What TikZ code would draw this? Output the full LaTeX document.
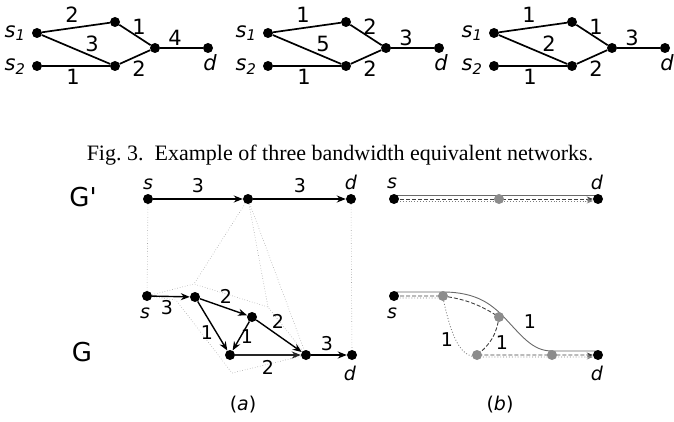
\documentclass[tikz,border=0pt]{standalone}
\usepackage{fontspec}
\setmainfont{Liberation Serif}
\newfontfamily\labfont{DejaVu Sans}
\usetikzlibrary{arrows.meta, positioning, backgrounds}
\definecolor{hullGray}{RGB}{165,165,165}
\definecolor{pathGray}{RGB}{105,105,105}
\definecolor{nodeGray}{RGB}{140,140,140}

\begin{document}
\begin{tikzpicture}[x=1pt, y=-1pt,
    dot/.style={circle, fill=black, inner sep=0pt, minimum size=10pt},
    gdot/.style={dot, fill=nodeGray},
    lbl/.style={font=\labfont\fontsize{21}{23}\selectfont, inner sep=0pt},
    sml/.style={font=\labfont\fontsize{19}{21}\selectfont, inner sep=0pt},
    big/.style={font=\labfont\fontsize{26}{28}\selectfont, inner sep=0pt},
    link/.style={line width=1.7pt},
    arr/.style={line width=1.4pt, -{Stealth[length=9pt, width=7pt]}},
    hull/.style={hullGray, dotted, line width=0.6pt},
    solidp/.style={pathGray, line width=0.9pt},
    dashp/.style={black!75, line width=0.9pt, dash pattern=on 4pt off 2pt, -{Stealth[length=6pt, width=5pt]}},
    dotp/.style={black!50, line width=0.9pt, dotted, -{Stealth[length=6pt, width=5pt]}}
  ]
  \useasboundingbox (0,0) rectangle (674,422);

  % three equivalent networks
  \foreach \ox/\la/\lb/\lc/\ld/\le/\lf/\p in {0/2/3/1/4/1/2/1, 231/1/5/2/3/1/2/2, 457/1/2/1/3/1/2/3} {
    \begin{scope}[xshift=\ox pt]
      \node[dot] (s1-\p) at (37,33) {};
      \node[dot] (s2-\p) at (37,66) {};
      \node[dot] (up-\p) at (115,22) {};
      \node[dot] (lo-\p) at (115,66) {};
      \node[dot] (mg-\p) at (155,48) {};
      \node[dot] (d-\p) at (208,48) {};
      \draw[link] (s1-\p) -- (up-\p) -- (mg-\p) -- (d-\p);
      \draw[link] (s1-\p) -- (lo-\p) -- (mg-\p);
      \draw[link] (s2-\p) -- (lo-\p);
      \node[lbl] (ls1-\p) at (15,33) {\itshape s\textsubscript{1}};
      \node[lbl] (ls2-\p) at (15,67) {\itshape s\textsubscript{2}};
      \node[lbl] (ld-\p) at (210,63) {\itshape d};
      \node[lbl] (la-\p) at (72,15) {\la};
      \node[lbl] (lb-\p) at (92,44) {\lb};
      \node[lbl] (lc-\p) at (139,27) {\lc};
      \node[lbl] (ldd-\p) at (175,38) {\ld};
      \node[lbl] (le-\p) at (73,77) {\le};
      \node[lbl] (lf-\p) at (139,69) {\lf};
    \end{scope}
  }

  \node[font=\fontsize{22}{24}\selectfont, anchor=base] (caption) at (340,161)
    {Fig.~3.\ \ Example of three bandwidth equivalent networks.};

  \node[big] (Gp) at (83,197) {G'};
  \node[big] (G) at (82,352) {G};

  % (a) G'
  \node[dot] (sP) at (148,199) {};
  \node[dot] (mP) at (248,199) {};
  \node[dot] (dP) at (351,199) {};
  \draw[arr] (sP) -- (mP);
  \draw[arr] (mP) -- (dP);
  \node[sml] (lsP) at (148,184) {\itshape s};
  \node[sml] (ldP) at (351,182) {\itshape d};
  \node[sml] (l3a) at (198,186) {3};
  \node[sml] (l3b) at (300,186) {3};

  % (a) G
  \node[dot] (sG) at (147,296) {};
  \node[dot] (aG) at (195,297) {};
  \node[dot] (bG) at (252,317) {};
  \node[dot] (cG) at (230,355) {};
  \node[dot] (eG) at (306,355) {};
  \node[dot] (dG) at (352,355) {};
  \draw[arr] (sG) -- (aG);
  \draw[arr] (aG) -- (bG);
  \draw[arr] (aG) -- (cG);
  \draw[arr] (bG) -- (cG);
  \draw[arr] (bG) -- (eG);
  \draw[arr, line width=1.9pt, black!85] (cG) -- (eG);
  \draw[arr] (eG) -- (dG);
  \node[sml] (lsG) at (145,313) {\itshape s};
  \node[sml] (ldG) at (350,373) {\itshape d};
  \node[sml] (lsa) at (167,308) {3};
  \node[sml] (lab) at (226,296) {2};
  \node[sml] (lac) at (207,333) {1};
  \node[sml] (lbc) at (247,337) {1};
  \node[sml] (lbe) at (278,321) {2};
  \node[sml] (lce) at (268,367) {2};
  \node[sml] (led) at (327,344) {3};

  % mapping of G' onto G
  \coordinate (h1) at (194,284);
  \coordinate (h2) at (268,307);
  \coordinate (h5) at (232,373);
  \coordinate (h6) at (176,300);
  \begin{scope}[on background layer]
    \draw[hull] (sG.center) -- (h1) -- (h2) -- (eG.center) -- (h5) -- (h6) -- (sG.center);
    \draw[hull] (mP.center) -- (h1);
    \draw[hull] (mP.center) -- (h2);
    \draw[hull] (mP.center) -- (eG.center);
    \draw[hull] (sP.center) -- (sG.center);
    \draw[hull] (dP.center) -- (dG.center);
  \end{scope}
  \node[sml] (capa) at (243,405) {(\textit{a})};

  % (b) G'
  \node[dot] (sPb) at (394,199) {};
  \node[gdot] (gPb) at (499,199) {};
  \node[dot] (dPb) at (598,199) {};
  \begin{scope}[on background layer]
    \draw[solidp] ([yshift=4pt]sPb.center) -- ([yshift=4pt]dPb.center);
    \draw[dashp] (sPb.center) -- (gPb.center) -- (dPb.west);
    \draw[dotp] ([yshift=-2pt]sPb.center) -- ([yshift=-2pt]dPb.west);
  \end{scope}
  \node[sml] (lsPb) at (392,183) {\itshape s};
  \node[sml] (ldPb) at (597,182) {\itshape d};

  % (b) G
  \node[dot] (sGb) at (394,296) {};
  \node[gdot] (g1) at (443,296) {};
  \node[gdot] (g2) at (499,317) {};
  \node[gdot] (g3) at (477,355) {};
  \node[gdot] (g4) at (552,355) {};
  \node[dot] (dGb) at (598,355) {};
  \begin{scope}[on background layer]
    \draw[solidp] ([yshift=4pt]sGb.center) -- ([yshift=4pt]g1.center)
      .. controls (478,292) and (492,306) .. ([shift={(2pt,3pt)}]g2.center)
      .. controls (522,336) and (532,351) .. ([yshift=4pt]g4.center) -- ([yshift=4pt]dGb.center);
    \draw[dashp] (sGb.center) -- (g1.center) to[bend left=12] (g2.center)
      to[bend left=22] (g3.center) -- (g4.center) -- (dGb.west);
    \draw[dotp] ([yshift=-2pt]sGb.center) -- ([yshift=-2pt]g1.center)
      .. controls (450,330) and (458,357) .. ([yshift=-2pt]g3.center) -- ([yshift=-2pt]dGb.west);
  \end{scope}
  \node[sml] (lsGb) at (392,313) {\itshape s};
  \node[sml] (ldGb) at (597,373) {\itshape d};
  \node[sml] (l1r) at (530,322) {1};
  \node[sml] (l1l) at (447,340) {1};
  \node[sml] (l1m) at (502,343) {1};
  \node[sml] (capb) at (500,405) {(\textit{b})};
\end{tikzpicture}
\end{document}
